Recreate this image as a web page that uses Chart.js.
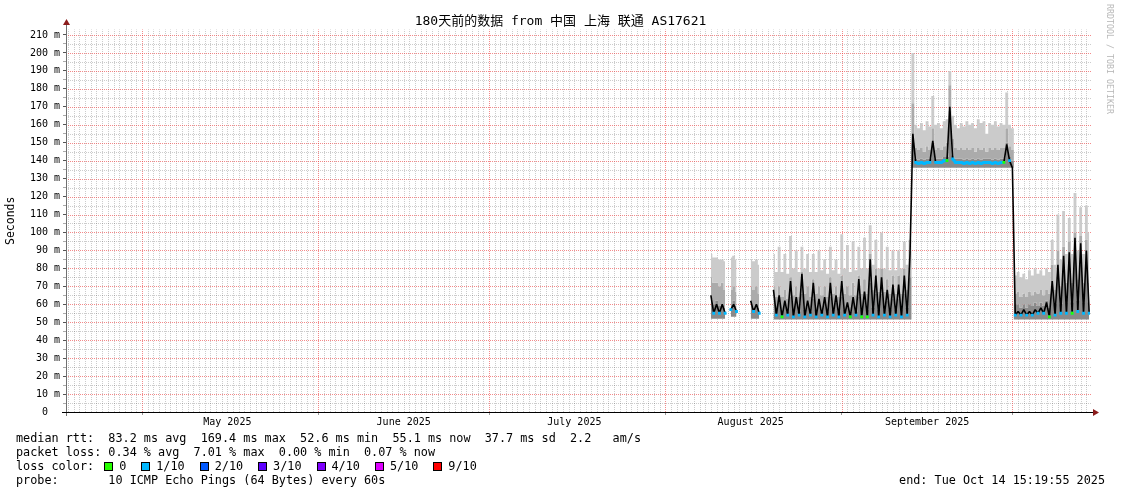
<!DOCTYPE html>
<html>
<head>
<meta charset="utf-8">
<script src="https://cdn.jsdelivr.net/npm/chart.js@4.4.1/dist/chart.umd.min.js"></script>
<style>
html,body{margin:0;padding:0;background:#fff;}
#wrap{position:relative;width:1121px;height:494px;overflow:hidden;background:#fff;}
#c{position:absolute;left:0;top:0;}
.t{position:absolute;font-family:'DejaVu Sans Mono',monospace;font-size:11.8px;line-height:14px;white-space:pre;color:#000;}
.box{display:inline-block;width:9px;height:9px;border:1px solid #000;box-sizing:border-box;vertical-align:-1px;margin-left:15px;margin-right:6px;}
#rrd{position:absolute;left:1115px;top:4px;transform-origin:0 0;transform:rotate(90deg);font-family:'DejaVu Sans Mono',monospace;font-size:8.3px;line-height:10px;white-space:pre;color:#b8b8b8;}
</style>
</head>
<body>
<div id="wrap">
<canvas id="c" width="1121" height="494"></canvas>
<div id="rrd">RRDTOOL / TOBI OETIKER</div>
<div class="t" id="l1" style="left:16px;top:431px"></div>
<div class="t" id="l2" style="left:16px;top:445px"></div>
<div class="t" id="l3" style="left:16px;top:459px"></div>
<div class="t" id="l4" style="left:16px;top:473px"></div>
<div class="t" id="l5" style="right:16px;top:473px"></div>
</div>
<script>
// ---------- texts ----------
const chartTitle = '180天前的数据 from 中国 上海 联通 AS17621';
const yAxisTitle = 'Seconds';
const statsMedian = 'median rtt:  83.2 ms avg  169.4 ms max  52.6 ms min  55.1 ms now  37.7 ms sd  2.2   am/s';
const statsLoss = 'packet loss: 0.34 % avg  7.01 % max  0.00 % min  0.07 % now';
const probeText = 'probe:       10 ICMP Echo Pings (64 Bytes) every 60s';
const endText = 'end: Tue Oct 14 15:19:55 2025';
const lossLabels = ['0', '1/10', '2/10', '3/10', '4/10', '5/10', '9/10'];
const lossColors = ['#26ff00', '#00b8ff', '#0059ff', '#5e00ff', '#7e00ff', '#dd00ff', '#ff0000'];

// ---------- axes (day of year 2025, Jan 1 = 0) ----------
const xStartDay = 106.64;   // Apr 17 15:20
const xEndDay = 286.64;     // Oct 14 15:20
const monthStartDays = [120, 151, 181, 212, 243, 273];
const monthLabelDays = [135, 166, 196, 227, 258];
const monthLabels = ['May 2025', 'June 2025', 'July 2025', 'August 2025', 'September 2025'];
const yMajorTicks = [0,10,20,30,40,50,60,70,80,90,100,110,120,130,140,150,160,170,180,190,200,210];
const yTickLabels = ['0  ','10 m','20 m','30 m','40 m','50 m','60 m','70 m','80 m','90 m','100 m','110 m','120 m','130 m','140 m','150 m','160 m','170 m','180 m','190 m','200 m','210 m'];

// ---------- samples: day 220.0 onward, two per day (evening peak, then off-peak) ----------
const firstSampleDay = 220;
const sampleStep = 0.5;
const median = [
 65,55, 60,55, 60,55, null,57, 60,56, null,null, null,null, 62,56, 60,55, null,null, null,null,
 68,54, 65,53, 62,54, 73,53, 64,54, 77,53, 62,54, 72,53, 63,54, 64,53, 72,54, 65,53, 73,54,
 61,53, 64,54, 74,53, 67,53, 85,54, 76,53, 75,54, 68,53, 71,54, 71,53, 76,54, 88,155,
 139,138.5, 139,138.5, 139,139, 151,139, 139,139, 140,140, 170,141, 139,139, 139,138.5,
 139,138.5, 139,138.5, 139,138.5, 139,139, 139,138.5, 139,138.5, 139,139, 149,140, 136,54,
 56,54, 57,54, 56,54, 57,55, 58,55, 61,53, 73,54, 82,55, 87,55, 89,55, 97,56, 94,55, 90,55
];
const smokeMax = [
 88,86, 86,85, 85,84, null,86, 87,85, null,null, null,null, 85,84, 85,82, null,null, null,null,
 88,78, 92,78, 88,77, 98,80, 90,78, 92,80, 88,78, 88,78, 90,79, 85,77, 92,79, 85,77, 99,80,
 93,78, 95,79, 92,80, 97,80, 104,82, 96,80, 100,80, 92,79, 90,79, 90,80, 95,82, 96,200,
 160,158, 161,157, 162,159, 176,160, 161,158, 162,163, 190,165, 160,158, 161,159,
 162,160, 161,158, 163,161, 162,155, 161,160, 162,159, 161,160, 178,160, 158,76,
 78,75, 77,74, 79,76, 80,77, 79,76, 80,78, 96,82, 110,85, 112,88, 108,88, 122,90, 114,88, 115,100
];
const smokeMid = [
 75,72, 72,70, 72,68, null,68, 70,67, null,null, null,null, 70,68, 70,66, null,null, null,null,
 70,64, 70,64, 68,63, 75,65, 70,64, 78,66, 70,64, 74,66, 70,65, 70,64, 75,66, 70,64, 76,66,
 70,65, 72,65, 76,66, 74,66, 88,68, 80,67, 80,67, 74,66, 76,66, 76,66, 80,68, 90,172,
 147,146, 147,145, 148,146, 158,146, 147,146, 148,150, 182,152, 147,146, 147,146,
 147,146, 147,145, 147,146, 147,145, 147,146, 147,146, 147,147, 158,148, 146,66,
 67,64, 66,64, 67,65, 67,66, 68,65, 68,66, 82,68, 90,70, 92,72, 95,72, 100,74, 98,72, 96,72
];
const smokeDark = [
 63,60, 62,59, 60,58, null,60, 62,59, null,null, null,null, 60,58, 60,58, null,null, null,null,
 62,57, 61,57, 60,56, 64,57, 61,56, 66,57, 60,56, 63,57, 60,56, 61,56, 64,57, 61,56, 64,57,
 59,56, 61,56, 64,57, 62,57, 72,58, 66,57, 66,57, 62,57, 63,57, 63,57, 66,58, 75,150,
 141,140.5, 141,140.5, 141,141, 150,141, 141,141, 142,142, 168,143, 141,141, 141,140.5,
 141,140.5, 141,140.5, 141,140.5, 141,141, 141,140.5, 141,140.5, 141,141, 150,142, 140,60,
 60,58, 60,58, 60,59, 61,59, 61,59, 62,58, 70,60, 75,60, 78,61, 80,61, 84,62, 82,61, 80,61
];
const smokeMin = [
 52,52, 52,52, 52,52, null,53, 53,53, null,null, null,null, 52,52, 52,52, null,null, null,null,
 51.5,51.5, 51.5,51.5, 51.5,51.5, 51.5,51.5, 51.5,51.5, 51.5,51.5, 51.5,51.5, 51.5,51.5, 51.5,51.5,
 51.5,51.5, 51.5,51.5, 51.5,51.5, 51.5,51.5, 51.5,51.5, 51.5,51.5, 51.5,51.5, 51.5,51.5, 51.5,51.5,
 51.5,51.5, 51.5,51.5, 51.5,51.5, 51.5,51.5, 51.5,51.5, 51.5,51.5, 51.5,136,
 136,136, 136,136, 136,136, 136,136, 136,136, 136,136, 136,136, 136,136, 136,136,
 136,136, 136,136, 136,136, 136,136, 136,136, 136,136, 136,136, 136,136, 136,51.5,
 51.5,51.5, 51.5,51.5, 51.5,51.5, 51.5,51.5, 51.5,51.5, 51.5,51.5, 51.5,51.5, 51.5,51.5,
 51.5,51.5, 51.5,51.5, 51.5,51.5, 51.5,51.5, 51.5,51.5
];
// loss per sample: 0 -> "0", 1 -> "1/10", null -> median drawn black only
const lossLevel = [
 null,1, null,1, null,1, null,1, null,1, null,null, null,null, null,1, null,1, null,null, null,null,
 null,1, null,0, null,1, null,1, null,1, null,1, null,1, null,1, null,1, null,1, null,1, null,1, null,1,
 null,0, null,1, null,0, null,0, null,1, null,1, null,1, null,1, null,1, null,1, null,1, null,null,
 1,1, 1,1, 1,1, null,1, 1,1, 1,0, null,1, 1,1, 1,1,
 1,1, 1,1, 1,1, 1,1, 1,1, 1,1, 1,0, null,1, null,1,
 null,1, null,1, null,1, null,1, null,1, null,0, null,1, null,1, null,1, null,0, null,1, null,1, null,1
];

// ---------- build ----------
const toPts = arr => arr.map((v, i) => ({x: firstSampleDay + i * sampleStep, y: v}));
const lossPts = lvlWanted => median.map((v, i) => ({
  x: firstSampleDay + i * sampleStep,
  y: (lossLevel[i] !== null && (lvlWanted === null || lossLevel[i] === lvlWanted)) ? v : null
}));
const dayTicks = [];
for (let d = Math.ceil(xStartDay); d <= Math.floor(xEndDay); d++) dayTicks.push(d);
const yAllTicks = [];
for (let v = 0; v <= 210; v += 5) yAllTicks.push(v);

const FONT = "'DejaVu Sans Mono', 'Noto Sans CJK SC', monospace";
const majorGrid = 'rgba(235,60,60,0.6)';
const minorGrid = 'rgba(0,0,0,0.2)';

const band = (data, color, order) => ({
  data: toPts(data), borderWidth: 0, pointRadius: 0, stepped: 'middle',
  backgroundColor: color, borderColor: 'rgba(0,0,0,0)', fill: '-1', order: order, spanGaps: false
});

// dotted RRD-style grid drawn from the scales' own ticks
const gridPlugin = {
  id: 'rrdGrid',
  beforeDatasetsDraw(chart) {
    const {ctx, chartArea: a, scales: {x, y}} = chart;
    ctx.save();
    ctx.lineWidth = 1;
    ctx.setLineDash([1, 1]);
    const vline = (v, col) => {
      const px = Math.round(x.getPixelForValue(v)) + 0.5;
      ctx.strokeStyle = col; ctx.beginPath(); ctx.moveTo(px, a.bottom); ctx.lineTo(px, a.top); ctx.stroke();
    };
    const hline = (v, col) => {
      const py = Math.round(y.getPixelForValue(v)) + 0.5;
      ctx.strokeStyle = col; ctx.beginPath(); ctx.moveTo(a.left, py); ctx.lineTo(a.right + 2, py); ctx.stroke();
    };
    x.ticks.forEach(t => { if (!monthStartDays.includes(t.value)) vline(t.value, minorGrid); });
    y.ticks.forEach(t => { if (t.value > 0 && t.value % 10 !== 0) hline(t.value, minorGrid); });
    y.ticks.forEach(t => { if (t.value > 0 && t.value % 10 === 0) hline(t.value, majorGrid); });
    monthStartDays.forEach(v => vline(v, majorGrid));
    ctx.restore();
  }
};

const axesPlugin = {
  id: 'rrdAxes',
  afterDraw(chart) {
    const {ctx, chartArea: a} = chart;
    ctx.save();
    ctx.lineWidth = 1;
    ctx.strokeStyle = '#707070';
    ctx.beginPath(); ctx.moveTo(a.left + 0.5, a.bottom + 4); ctx.lineTo(a.left + 0.5, 24); ctx.stroke();
    ctx.strokeStyle = '#000';
    ctx.beginPath(); ctx.moveTo(a.left - 4, a.bottom + 0.5); ctx.lineTo(a.right + 4, a.bottom + 0.5); ctx.stroke();
    ctx.fillStyle = '#8b1c1c';
    ctx.beginPath(); ctx.moveTo(a.left - 3, 25); ctx.lineTo(a.left + 0.5, 19); ctx.lineTo(a.left + 4, 25); ctx.closePath(); ctx.fill();
    ctx.beginPath(); ctx.moveTo(a.right + 3, a.bottom - 3); ctx.lineTo(a.right + 9, a.bottom + 0.5); ctx.lineTo(a.right + 3, a.bottom + 4); ctx.closePath(); ctx.fill();
    ctx.restore();
  }
};

new Chart(document.getElementById('c'), {
  type: 'line',
  data: {
    datasets: [
      {data: toPts(smokeMin), borderWidth: 0, pointRadius: 0, stepped: 'middle', fill: false, borderColor: 'rgba(0,0,0,0)', order: 10},
      band(smokeDark, '#8a8a8a', 9),
      band(smokeMid, '#ababab', 8),
      band(smokeMax, '#cbcbcb', 7),
      {data: toPts(median), borderColor: '#000', borderWidth: 1.6, pointRadius: 0, fill: false, borderJoinStyle: 'bevel', order: 2},
      {data: lossPts(null), borderColor: lossColors[1], borderWidth: 3, pointRadius: 2, pointStyle: 'rect',
       pointBackgroundColor: lossColors[1], pointBorderWidth: 0, fill: false, order: 1},
      {data: lossPts(0), showLine: false, pointRadius: 2, pointStyle: 'rect',
       pointBackgroundColor: lossColors[0], pointBorderWidth: 0, fill: false, order: 0}
    ]
  },
  options: {
    responsive: false, animation: false, devicePixelRatio: 1,
    layout: {padding: {left: 0, right: 0, top: 0, bottom: 62}},
    plugins: {
      legend: {display: false}, tooltip: {enabled: false},
      title: {display: true, text: chartTitle, color: '#000',
        font: {family: FONT, size: 13, weight: 'normal', lineHeight: 1.2}, padding: {top: 14, bottom: 0}}
    },
    scales: {
      x: {
        type: 'linear', min: xStartDay, max: xEndDay,
        afterBuildTicks: s => { s.ticks = dayTicks.map(v => ({value: v})); },
        afterFit: s => { s.height = 20; },
        ticks: {autoSkip: false, maxRotation: 0, padding: 1, color: '#000', font: {family: FONT, size: 10},
          callback: v => { const k = monthLabelDays.indexOf(v); return k >= 0 ? monthLabels[k] : ''; }},
        grid: {drawOnChartArea: false, lineWidth: 1, tickLength: 3,
          tickColor: c => (c.tick && monthStartDays.includes(c.tick.value)) ? '#999' : 'rgba(0,0,0,0)'},
        border: {display: false}
      },
      y: {
        type: 'linear', min: 0, max: 213.0,
        afterBuildTicks: s => { s.ticks = yAllTicks.map(v => ({value: v})); },
        afterFit: s => { s.width = 66; },
        title: {display: true, text: yAxisTitle, color: '#000', font: {family: FONT, size: 11.5}, padding: {top: 4, bottom: 0}},
        ticks: {autoSkip: false, padding: 3, color: '#000', font: {family: FONT, size: 10},
          callback: v => { const k = yMajorTicks.indexOf(v); return k >= 0 ? yTickLabels[k] : ''; }},
        grid: {drawOnChartArea: false, lineWidth: 1, tickLength: 3,
          tickColor: c => (c.tick && c.tick.value % 10 === 0) ? '#555' : '#aaa'},
        border: {display: false}
      },
      yR: {
        type: 'linear', position: 'right', display: true,
        afterFit: s => { s.width = 31; },
        ticks: {display: false}, grid: {display: false, drawTicks: false}, border: {display: false}
      }
    }
  },
  plugins: [gridPlugin, axesPlugin]
});

// ---------- footer legend (HTML text) ----------
document.getElementById('l1').textContent = statsMedian;
document.getElementById('l2').textContent = statsLoss;
document.getElementById('l4').textContent = probeText;
document.getElementById('l5').textContent = endText;
const l3 = document.getElementById('l3');
l3.appendChild(document.createTextNode('loss color:'));
lossLabels.forEach((lab, i) => {
  const b = document.createElement('span');
  b.className = 'box';
  b.style.background = lossColors[i];
  if (i === 0) b.style.marginLeft = '10px';
  l3.appendChild(b);
  l3.appendChild(document.createTextNode(lab));
});
</script>
</body>
</html>
